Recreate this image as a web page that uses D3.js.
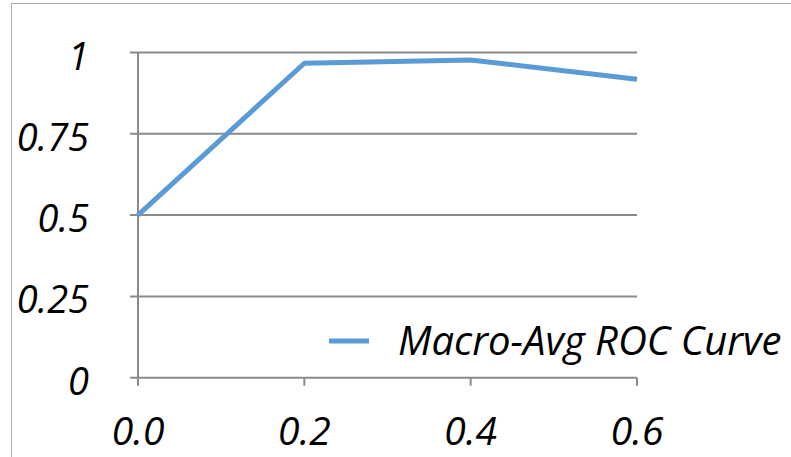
<!DOCTYPE html>
<html>
<head>
<meta charset="utf-8">
<script src="https://cdn.jsdelivr.net/npm/d3@7"></script>
<style>
  body { margin: 0; background: #fff; }
  svg text { font-family: "Open Sans", sans-serif; font-style: italic; fill: #000; }
</style>
</head>
<body>
<div id="chart"></div>
<script>
// data
var fpr = [0.0, 0.2, 0.4, 0.6];
var tpr = [0.5, 0.967, 0.977, 0.918];
var xTicks = [0.0, 0.2, 0.4, 0.6];
var yTicks = [0, 0.25, 0.5, 0.75, 1];
var seriesName = "Macro-Avg ROC Curve";

var width = 791, height = 457;
var svg = d3.select("#chart").append("svg")
  .attr("width", width)
  .attr("height", height);

// outer chart border
svg.append("rect")
  .attr("x", 11.5).attr("y", 3.5)
  .attr("width", 900).attr("height", 600)
  .attr("fill", "none")
  .attr("stroke", "#adadad")
  .attr("stroke-width", 1);

var x = d3.scaleLinear().domain([0, 0.6]).range([138, 637]);
var y = d3.scaleLinear().domain([0, 1]).range([377.7, 52.5]);

// horizontal gridlines
svg.append("g")
  .selectAll("line")
  .data(yTicks)
  .enter().append("line")
  .attr("x1", x(0) - 8).attr("x2", x(0.6))
  .attr("y1", function(d) { return y(d); })
  .attr("y2", function(d) { return y(d); })
  .attr("stroke", "#8a8a8a")
  .attr("stroke-width", 2);

// y axis line
svg.append("line")
  .attr("x1", x(0)).attr("x2", x(0))
  .attr("y1", y(1)).attr("y2", y(0))
  .attr("stroke", "#8a8a8a").attr("stroke-width", 2);

// x ticks
svg.append("g")
  .selectAll("line")
  .data(xTicks)
  .enter().append("line")
  .attr("x1", function(d) { return x(d); })
  .attr("x2", function(d) { return x(d); })
  .attr("y1", y(0)).attr("y2", y(0) + 8)
  .attr("stroke", "#8a8a8a").attr("stroke-width", 2);

// y labels
svg.append("g")
  .selectAll("text")
  .data(yTicks)
  .enter().append("text")
  .attr("x", 89)
  .attr("y", function(d) { return y(d) + 2; })
  .attr("text-anchor", "end")
  .attr("dominant-baseline", "central")
  .attr("font-size", "38px")
  .text(function(d) { return d; });

// x labels
svg.append("g")
  .selectAll("text")
  .data(xTicks)
  .enter().append("text")
  .attr("x", function(d) { return x(d); })
  .attr("y", 445)
  .attr("text-anchor", "middle")
  .attr("font-size", "39px")
  .text(function(d) { return d.toFixed(1); });

// the curve
var pts = fpr.map(function(d, i) { return [d, tpr[i]]; });
svg.append("path")
  .datum(pts)
  .attr("fill", "none")
  .attr("stroke", "#5b9bd5")
  .attr("stroke-width", 5)
  .attr("stroke-linejoin", "round")
  .attr("d", d3.line()
    .x(function(d) { return x(d[0]); })
    .y(function(d) { return y(d[1]); }));

// legend
svg.append("line")
  .attr("x1", 329).attr("x2", 369)
  .attr("y1", 341).attr("y2", 341)
  .attr("stroke", "#5b9bd5").attr("stroke-width", 5);
svg.append("text")
  .attr("x", 398).attr("y", 355)
  .attr("font-size", "40px")
  .text(seriesName);
</script>
</body>
</html>
